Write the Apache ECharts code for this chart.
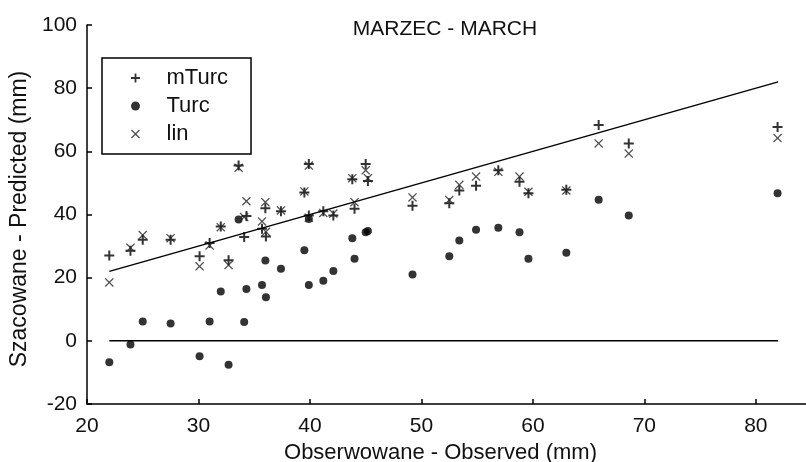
<!DOCTYPE html>
<html>
<head>
<meta charset="utf-8">
<script src="https://cdn.jsdelivr.net/npm/echarts@6/dist/echarts.min.js"></script>
<style>
  html, body { margin: 0; padding: 0; background: #fff; }
  #chart { width: 806px; height: 462px; }
</style>
</head>
<body>
<div id="chart"></div>
<script>
// observed values (x) and the three estimates, one entry per case
var observed = [22.0, 23.9, 25.0, 27.5, 30.1, 31.0, 32.7, 32.0, 34.1, 34.3, 36.0, 35.7,
  36.05, 37.4, 39.5, 39.9, 33.6, 39.9, 41.2, 42.1, 43.8, 44.0, 45.0, 45.2, 49.2,
  52.5, 53.4, 54.9, 56.9, 58.8, 59.6, 63.0, 65.9, 68.6, 81.95];
var mTurc = [27.0, 28.5, 32.0, 32.0, 26.8, 31.0, 25.5, 36.2, 32.9, 39.5, 42.0, 35.5,
  33.0, 41.0, 47.0, 39.7, 55.5, 56.0, 41.0, 39.7, 51.2, 41.8, 56.0, 50.6, 42.8,
  43.6, 47.6, 49.1, 54.0, 50.4, 46.7, 47.8, 68.3, 62.5, 67.7];
var turc = [-6.8, -1.2, 6.1, 5.5, -4.9, 6.1, -7.6, 15.6, 6.0, 16.4, 25.4, 17.7,
  13.8, 22.8, 28.7, 17.7, 38.4, 38.6, 19.0, 22.1, 32.5, 26.0, 34.4, 34.8, 21.0,
  26.8, 31.8, 35.2, 35.8, 34.4, 26.0, 27.9, 44.7, 39.7, 46.7];
var lin = [18.5, 29.5, 33.5, 32.5, 23.6, 30.2, 24.0, 36.0, 39.2, 44.2, 43.9, 37.8,
  34.5, 41.3, 47.3, 39.0, 54.8, 55.5, 40.5, 40.3, 51.5, 43.9, 54.0, 51.5, 45.4,
  44.6, 49.4, 52.0, 53.5, 52.0, 47.2, 47.6, 62.5, 59.3, 64.2];

// reference lines: 1:1 line and zero line
var oneToOne = [[22, 22], [82, 82]];
var zeroLine = [[22, 0], [82, 0]];

var xTicks = [20, 30, 40, 50, 60, 70, 80];

function pairs(ys) {
  return observed.map(function (x, i) { return [x, ys[i]]; });
}

var plusPath = 'path://M4,0 H6 V4 H10 V6 H6 V10 H4 V6 H0 V4 H4 Z';
var crossPath = 'path://M0,1 L1,0 L5,4 L9,0 L10,1 L6,5 L10,9 L9,10 L5,6 L1,10 L0,9 L4,5 Z';

var font = 'Liberation Sans, Arial, sans-serif';

var option = {
  animation: false,
  backgroundColor: '#fff',
  title: {
    text: 'MARZEC - MARCH',
    left: 440,
    textAlign: 'center',
    top: 14,
    textStyle: { fontFamily: font, fontSize: 21, fontWeight: 'normal', color: '#111' }
  },
  legend: {
    orient: 'vertical',
    left: 102,
    top: 58,
    padding: [9, 23, 9, 29],
    itemWidth: 56,
    itemHeight: 9,
    itemGap: 6,
    borderColor: '#000',
    borderWidth: 1.5,
    textStyle: { fontFamily: font, fontSize: 22, lineHeight: 16, color: '#111', padding: [0, 0, 0, -2] },
    data: ['mTurc', 'Turc', 'lin']
  },
  grid: { left: 87, right: 0, top: 25, bottom: 58, containLabel: false, outerBoundsMode: 'none' },
  xAxis: {
    type: 'value',
    min: 20,
    max: 84.5,
    name: 'Obserwowane - Observed (mm)',
    nameLocation: 'middle',
    nameGap: 37,
    nameTextStyle: { fontFamily: font, fontSize: 22, color: '#111', padding: [0, 12, 0, 0] },
    axisLine: { onZero: false, lineStyle: { color: '#000', width: 1.5 } },
    axisTick: { inside: true, length: 5, lineStyle: { color: '#000', width: 1.5 }, customValues: xTicks },
    axisLabel: { fontFamily: font, fontSize: 21, color: '#111', margin: 12, customValues: xTicks },
    splitLine: { show: false }
  },
  yAxis: {
    type: 'value',
    min: -20,
    max: 100,
    interval: 20,
    name: 'Szacowane - Predicted (mm)',
    nameLocation: 'middle',
    nameGap: 49,
    nameTextStyle: { fontFamily: font, fontSize: 23, color: '#111', padding: [0, 9, 0, 0] },
    axisLine: { lineStyle: { color: '#000', width: 1.5 } },
    axisTick: { inside: true, length: 5, lineStyle: { color: '#000', width: 1.5 } },
    axisLabel: { fontFamily: font, fontSize: 21, color: '#111', margin: 10 },
    splitLine: { show: false }
  },
  series: [
    {
      name: '1:1',
      type: 'line',
      data: oneToOne,
      symbol: 'none',
      silent: true,
      lineStyle: { color: '#000', width: 1.5 }
    },
    {
      name: 'zero',
      type: 'line',
      data: zeroLine,
      symbol: 'none',
      silent: true,
      lineStyle: { color: '#000', width: 1.5 }
    },
    {
      name: 'mTurc',
      type: 'scatter',
      data: pairs(mTurc),
      symbol: plusPath,
      symbolSize: 10,
      itemStyle: { color: '#000' }
    },
    {
      name: 'Turc',
      type: 'scatter',
      data: pairs(turc),
      symbol: 'circle',
      symbolSize: 8,
      itemStyle: { color: '#000' }
    },
    {
      name: 'lin',
      type: 'scatter',
      data: pairs(lin),
      symbol: crossPath,
      symbolSize: 9,
      itemStyle: { color: '#222' }
    }
  ]
};

var chart = echarts.init(document.getElementById('chart'));
chart.setOption(option);
</script>
</body>
</html>
